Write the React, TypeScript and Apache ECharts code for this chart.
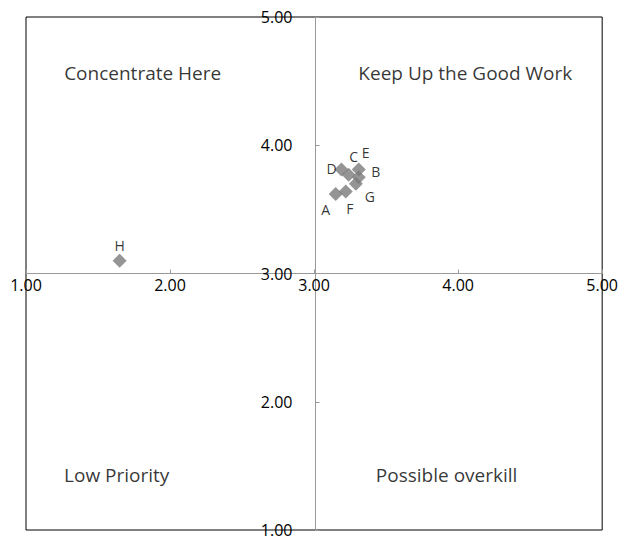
import React, { useEffect, useRef } from "react";
import * as echarts from "echarts";

const pointNames = ["A", "B", "C", "D", "E", "F", "G", "H"];
const xValues = [3.15, 3.31, 3.24, 3.19, 3.31, 3.22, 3.29, 1.65];
const yValues = [3.62, 3.75, 3.77, 3.81, 3.81, 3.64, 3.7, 3.1];
const xTicks = ["1.00", "2.00", "3.00", "4.00", "5.00"];
const yTicks = ["1.00", "2.00", "3.00", "4.00", "5.00"];
const quadrantNames = ["Concentrate Here", "Keep Up the Good Work", "Low Priority", "Possible overkill"];
const quadrantX = [1.81, 4.05, 1.63, 3.92];
const quadrantY = [4.56, 4.56, 1.43, 1.43];

const W = 621;
const H = 539;
const GL = 26, GR = 16, GT = 17, GB = 9;

export default function App() {
  const ref = useRef<HTMLDivElement>(null);
  useEffect(() => {
    if (!ref.current) return;
    const chart = echarts.init(ref.current, null, { renderer: "svg" });
    const gw = W - GL - GR;
    const gh = H - GT - GB;
    const font = "'Open Sans', sans-serif";
    const labelOffsets: Record<string, number[]> = {
      A: [-10, 16], B: [17, -6], C: [5, -18], D: [-10, -1], E: [7, -17], F: [4, 17], G: [14, 13], H: [0, -15],
    };
    chart.setOption({
      animation: false,
      grid: { left: GL, right: GR, top: GT, bottom: GB, show: true, borderColor: "#000", borderWidth: 1 },
      xAxis: {
        type: "value", min: 1, max: 5, interval: 1,
        offset: -gh / 2,
        axisLine: { show: true, onZero: false, lineStyle: { color: "#9a9a9a", width: 1 } },
        axisTick: { show: true, inside: true, length: 4, lineStyle: { color: "#9a9a9a" } },
        axisLabel: {
          color: "#000", fontFamily: font, fontSize: 16, margin: 3,
          formatter: (v: number) => xTicks[Math.round(v) - 1],
        },
        splitLine: { show: false },
      },
      yAxis: {
        type: "value", min: 1, max: 5, interval: 1,
        offset: -gw / 2,
        axisLine: { show: true, onZero: false, lineStyle: { color: "#9a9a9a", width: 1 } },
        axisTick: { show: true, inside: true, length: 4, lineStyle: { color: "#9a9a9a" } },
        axisLabel: {
          color: "#000", fontFamily: font, fontSize: 16, margin: 23, lineHeight: 16,
          formatter: (v: number) => yTicks[Math.round(v) - 1],
        },
        splitLine: { show: false },
      },
      series: [
        {
          type: "scatter",
          symbol: "diamond",
          symbolSize: 14,
          itemStyle: { color: "#7a7a7a" },
          data: pointNames.map((n, i) => ({
            value: [xValues[i], yValues[i]],
            name: n,
            label: {
              show: true,
              position: "inside",
              offset: labelOffsets[n],
              formatter: n,
              color: "#000",
              fontFamily: font,
              fontSize: 14,
            },
          })),
          z: 5,
        },
        {
          type: "scatter",
          symbolSize: 0,
          silent: true,
          data: quadrantNames.map((n, i) => ({
            value: [quadrantX[i], quadrantY[i]],
            label: {
              show: true,
              position: "inside",
              formatter: n,
              color: "#000",
              fontFamily: font,
              fontSize: 19,
            },
          })),
        },
      ],
    });
    return () => chart.dispose();
  }, []);
  return (
    <div
      ref={ref}
      style={{ position: "fixed", left: 0, top: 0, width: W, height: H, background: "#fff" }}
    />
  );
}
